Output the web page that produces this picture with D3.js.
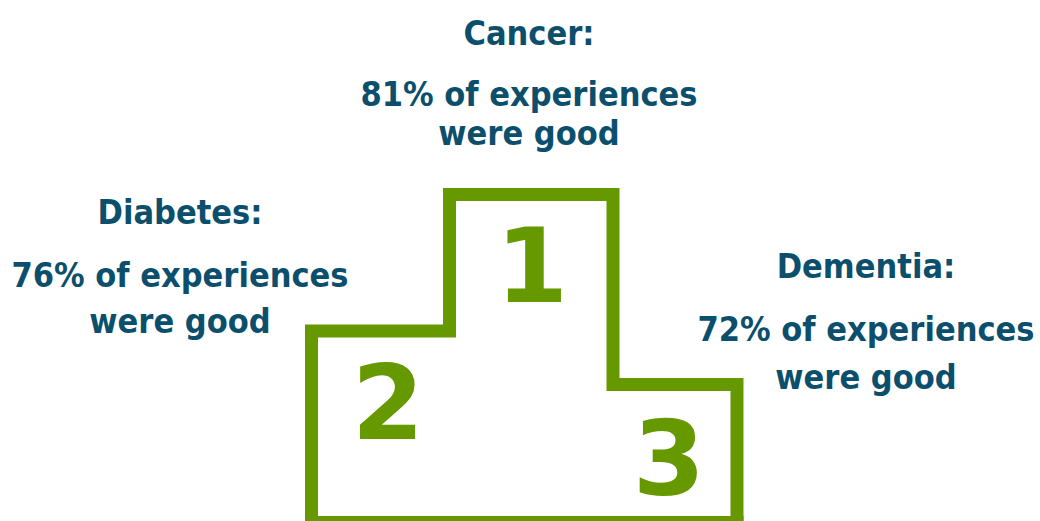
<!DOCTYPE html>
<html>
<head>
<meta charset="utf-8">
<script src="https://cdn.jsdelivr.net/npm/d3@7"></script>
<style>
  html, body { margin: 0; padding: 0; background: #ffffff; }
  svg { display: block; }
  .lbl { font-family: "DejaVu Sans Condensed", "DejaVu Sans", sans-serif; font-stretch: condensed; font-weight: bold; fill: #0b4f6c; }
  .rank { font-family: "DejaVu Sans", sans-serif; font-weight: bold; fill: #669900; }
</style>
</head>
<body>
<svg id="chart" width="1040" height="521"></svg>
<script>
// ---- data ----
const categories = ["Cancer", "Diabetes", "Dementia"];
const values = [81, 76, 72];          // % of experiences that were good
const ranks = [1, 2, 3];
const subText = "of experiences";
const tailText = "were good";

// ---- layout ----
const W = 1040, H = 521;
const svg = d3.select("#chart");
const green = "#669900";

// podium: order left->right is rank 2, rank 1, rank 3
const podiumOrder = [2, 1, 3];
const xEdges = d3.scaleOrdinal().domain([0, 1, 2, 3]).range([311.5, 449.5, 613, 737]);
const topY = d3.scaleOrdinal().domain([1, 2, 3]).range([194.5, 331, 384.5]);
const baseY = 522.5;

const pts = [[xEdges(0), baseY + 10]];
podiumOrder.forEach((r, i) => {
  pts.push([xEdges(i), topY(r)]);
  pts.push([xEdges(i + 1), topY(r)]);
});
pts.push([xEdges(3), baseY]);
pts.push([xEdges(3), baseY + 10]);
// bottom edge
const bottom = [[xEdges(3), baseY], [xEdges(0), baseY]];

svg.append("path")
  .attr("d", d3.line()(pts))
  .attr("fill", "none")
  .attr("stroke", green)
  .attr("stroke-width", 13)
  .attr("stroke-linejoin", "miter");
svg.append("path")
  .attr("d", d3.line()([[xEdges(0) - 6.5, baseY], [xEdges(3) + 6.5, baseY]]))
  .attr("stroke", green)
  .attr("stroke-width", 13);

// rank numerals
const rankPos = { 1: [532, 302], 2: [388, 439], 3: [669, 495] };
svg.selectAll("text.rank").data(ranks).join("text")
  .attr("class", "rank")
  .attr("x", d => rankPos[d][0])
  .attr("y", d => rankPos[d][1])
  .attr("text-anchor", "middle")
  .attr("font-size", 104)
  .text(d => d);

// labels
const labelPos = {
  "Cancer":   { x: 529, y: [45, 106, 145] },
  "Diabetes": { x: 180, y: [224, 287, 333] },
  "Dementia": { x: 866, y: [278, 341, 389] }
};
const fs = 34;
categories.forEach((c, i) => {
  const p = labelPos[c];
  const lines = [c + ":", values[i] + "% " + subText, tailText];
  lines.forEach((t, j) => {
    svg.append("text")
      .attr("class", "lbl")
      .attr("x", p.x)
      .attr("y", p.y[j])
      .attr("text-anchor", "middle")
      .attr("font-size", fs)
      .text(t);
  });
});
</script>
</body>
</html>
